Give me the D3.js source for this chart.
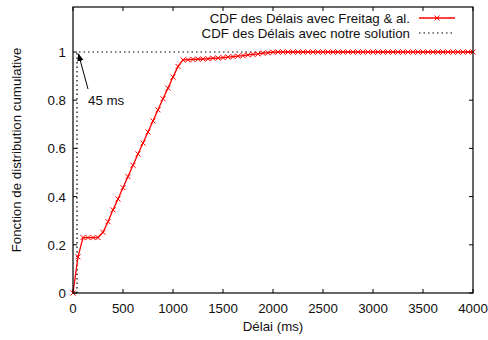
<!DOCTYPE html>
<html><head><meta charset="utf-8">
<script src="https://cdn.jsdelivr.net/npm/d3@7"></script>
<style>body{margin:0;background:#fff}svg{display:block}text{font-family:"Liberation Sans",Arial,sans-serif}</style>
</head><body><svg id="c" width="488" height="340"></svg>
<script>
const xTicks = [0,500,1000,1500,2000,2500,3000,3500,4000];
const yTicks = [0,0.2,0.4,0.6,0.8,1];
const freitagDelay = [0,50,100,150,200,250,300,350,400,450,500,550,600,650,700,750,800,850,900,950,1000,1050,1100,1150,1200,1250,1300,1350,1400,1450,1500,1550,1600,1650,1700,1750,1800,1850,1900,1950,2000,2050,2100,2150,2200,2250,2300,2350,2400,2450,2500,2550,2600,2650,2700,2750,2800,2850,2900,2950,3000,3050,3100,3150,3200,3250,3300,3350,3400,3450,3500,3550,3600,3650,3700,3750,3800,3850,3900,3950,4000];
const freitagCdf = [0,0.15,0.23,0.23,0.23,0.23,0.252,0.296,0.345,0.39,0.437,0.483,0.53,0.577,0.622,0.668,0.714,0.76,0.806,0.85,0.896,0.94,0.967,0.968,0.969,0.970,0.971,0.972,0.974,0.975,0.977,0.979,0.981,0.983,0.985,0.988,0.990,0.992,0.995,0.997,0.999,1,1,1,1,1,1,1,1,1,1,1,1,1,1,1,1,1,1,1,1,1,1,1,1,1,1,1,1,1,1,1,1,1,1,1,1,1,1,1,1];
const oursDelay = [40,40,4000];
const oursCdf = [0,1,1];
const seriesNames = ["CDF des Délais avec Freitag & al.","CDF des Délais avec notre solution"];

const svg = d3.select("#c");
const L=73, R=473, T=7, B=293;
const x = d3.scaleLinear().domain([0,4000]).range([L,R]);
const y = d3.scaleLinear().domain([0,1]).range([B,52]);
const fs = 13.3;
const tc = "#111";

const tl = 4;
const g = svg.append("g");
xTicks.forEach(t=>{
  g.append("line").attr("x1",x(t)).attr("x2",x(t)).attr("y1",B).attr("y2",B-tl).attr("stroke","#000");
  g.append("line").attr("x1",x(t)).attr("x2",x(t)).attr("y1",T).attr("y2",T+tl).attr("stroke","#000");
  g.append("text").attr("x",x(t)).attr("y",B+20).attr("text-anchor","middle").attr("font-size",fs).attr("fill",tc).text(t);
});
yTicks.forEach(t=>{
  g.append("line").attr("x1",L).attr("x2",L+tl).attr("y1",y(t)).attr("y2",y(t)).attr("stroke","#000");
  g.append("line").attr("x1",R).attr("x2",R-tl).attr("y1",y(t)).attr("y2",y(t)).attr("stroke","#000");
  g.append("text").attr("x",L-7).attr("y",y(t)+5).attr("text-anchor","end").attr("font-size",fs).attr("fill",tc).text(t);
});

const ours = oursDelay.map((d,i)=>[d,oursCdf[i]]);
svg.append("path").attr("d",d3.line().x(d=>x(d[0])).y(d=>y(d[1]))(ours))
  .attr("fill","none").attr("stroke","#000").attr("stroke-width",1.2).attr("stroke-dasharray","1.5,3");

const fr = freitagDelay.map((d,i)=>[d,freitagCdf[i]]);
svg.append("path").attr("d",d3.line().x(d=>x(d[0])).y(d=>y(d[1]))(fr))
  .attr("fill","none").attr("stroke","#f00").attr("stroke-width",1.3);
const m=2.5;
const cross = (px,py)=>`M${px-m},${py-m}L${px+m},${py+m}M${px-m},${py+m}L${px+m},${py-m}`;
svg.append("path").attr("d",fr.map(d=>cross(x(d[0]),y(d[1]))).join(""))
  .attr("fill","none").attr("stroke","#f00").attr("stroke-width",1);

svg.append("rect").attr("x",L).attr("y",T).attr("width",R-L).attr("height",B-T).attr("fill","none").attr("stroke","#000").attr("stroke-width",1.2);

const defs = svg.append("defs");
defs.append("marker").attr("id","ah").attr("viewBox","0 0 10 10").attr("refX",9).attr("refY",5)
  .attr("markerWidth",8).attr("markerHeight",8).attr("markerUnits","userSpaceOnUse").attr("orient","auto")
  .append("path").attr("d","M0,1L10,5L0,9Z").attr("fill","#000");
svg.append("line").attr("x1",88).attr("y1",89).attr("x2",x(45)+1).attr("y2",y(1)+2)
  .attr("stroke","#000").attr("stroke-width",1).attr("marker-end","url(#ah)");
svg.append("text").attr("x",88).attr("y",105).attr("font-size",fs).attr("fill",tc).text("45 ms");

const lg = svg.append("g");
lg.append("text").attr("x",410).attr("y",23).attr("text-anchor","end").attr("font-size",fs).attr("fill",tc).text(seriesNames[0]);
lg.append("text").attr("x",410).attr("y",38).attr("text-anchor","end").attr("font-size",fs).attr("fill",tc).text(seriesNames[1]);
lg.append("line").attr("x1",419).attr("x2",455).attr("y1",18).attr("y2",18).attr("stroke","#f00").attr("stroke-width",1.3);
lg.append("path").attr("d",cross(437,18)).attr("stroke","#f00").attr("stroke-width",1);
lg.append("line").attr("x1",419).attr("x2",455).attr("y1",33).attr("y2",33).attr("stroke","#000").attr("stroke-width",1.2).attr("stroke-dasharray","1.5,3");

svg.append("text").attr("x",(L+R)/2).attr("y",331).attr("text-anchor","middle").attr("font-size",fs).attr("fill",tc).text("Délai (ms)");
svg.append("text").attr("transform",`translate(21,${(T+B)/2}) rotate(-90)`).attr("text-anchor","middle").attr("font-size",fs).attr("fill",tc).text("Fonction de distribution cumulative");
</script></body></html>
